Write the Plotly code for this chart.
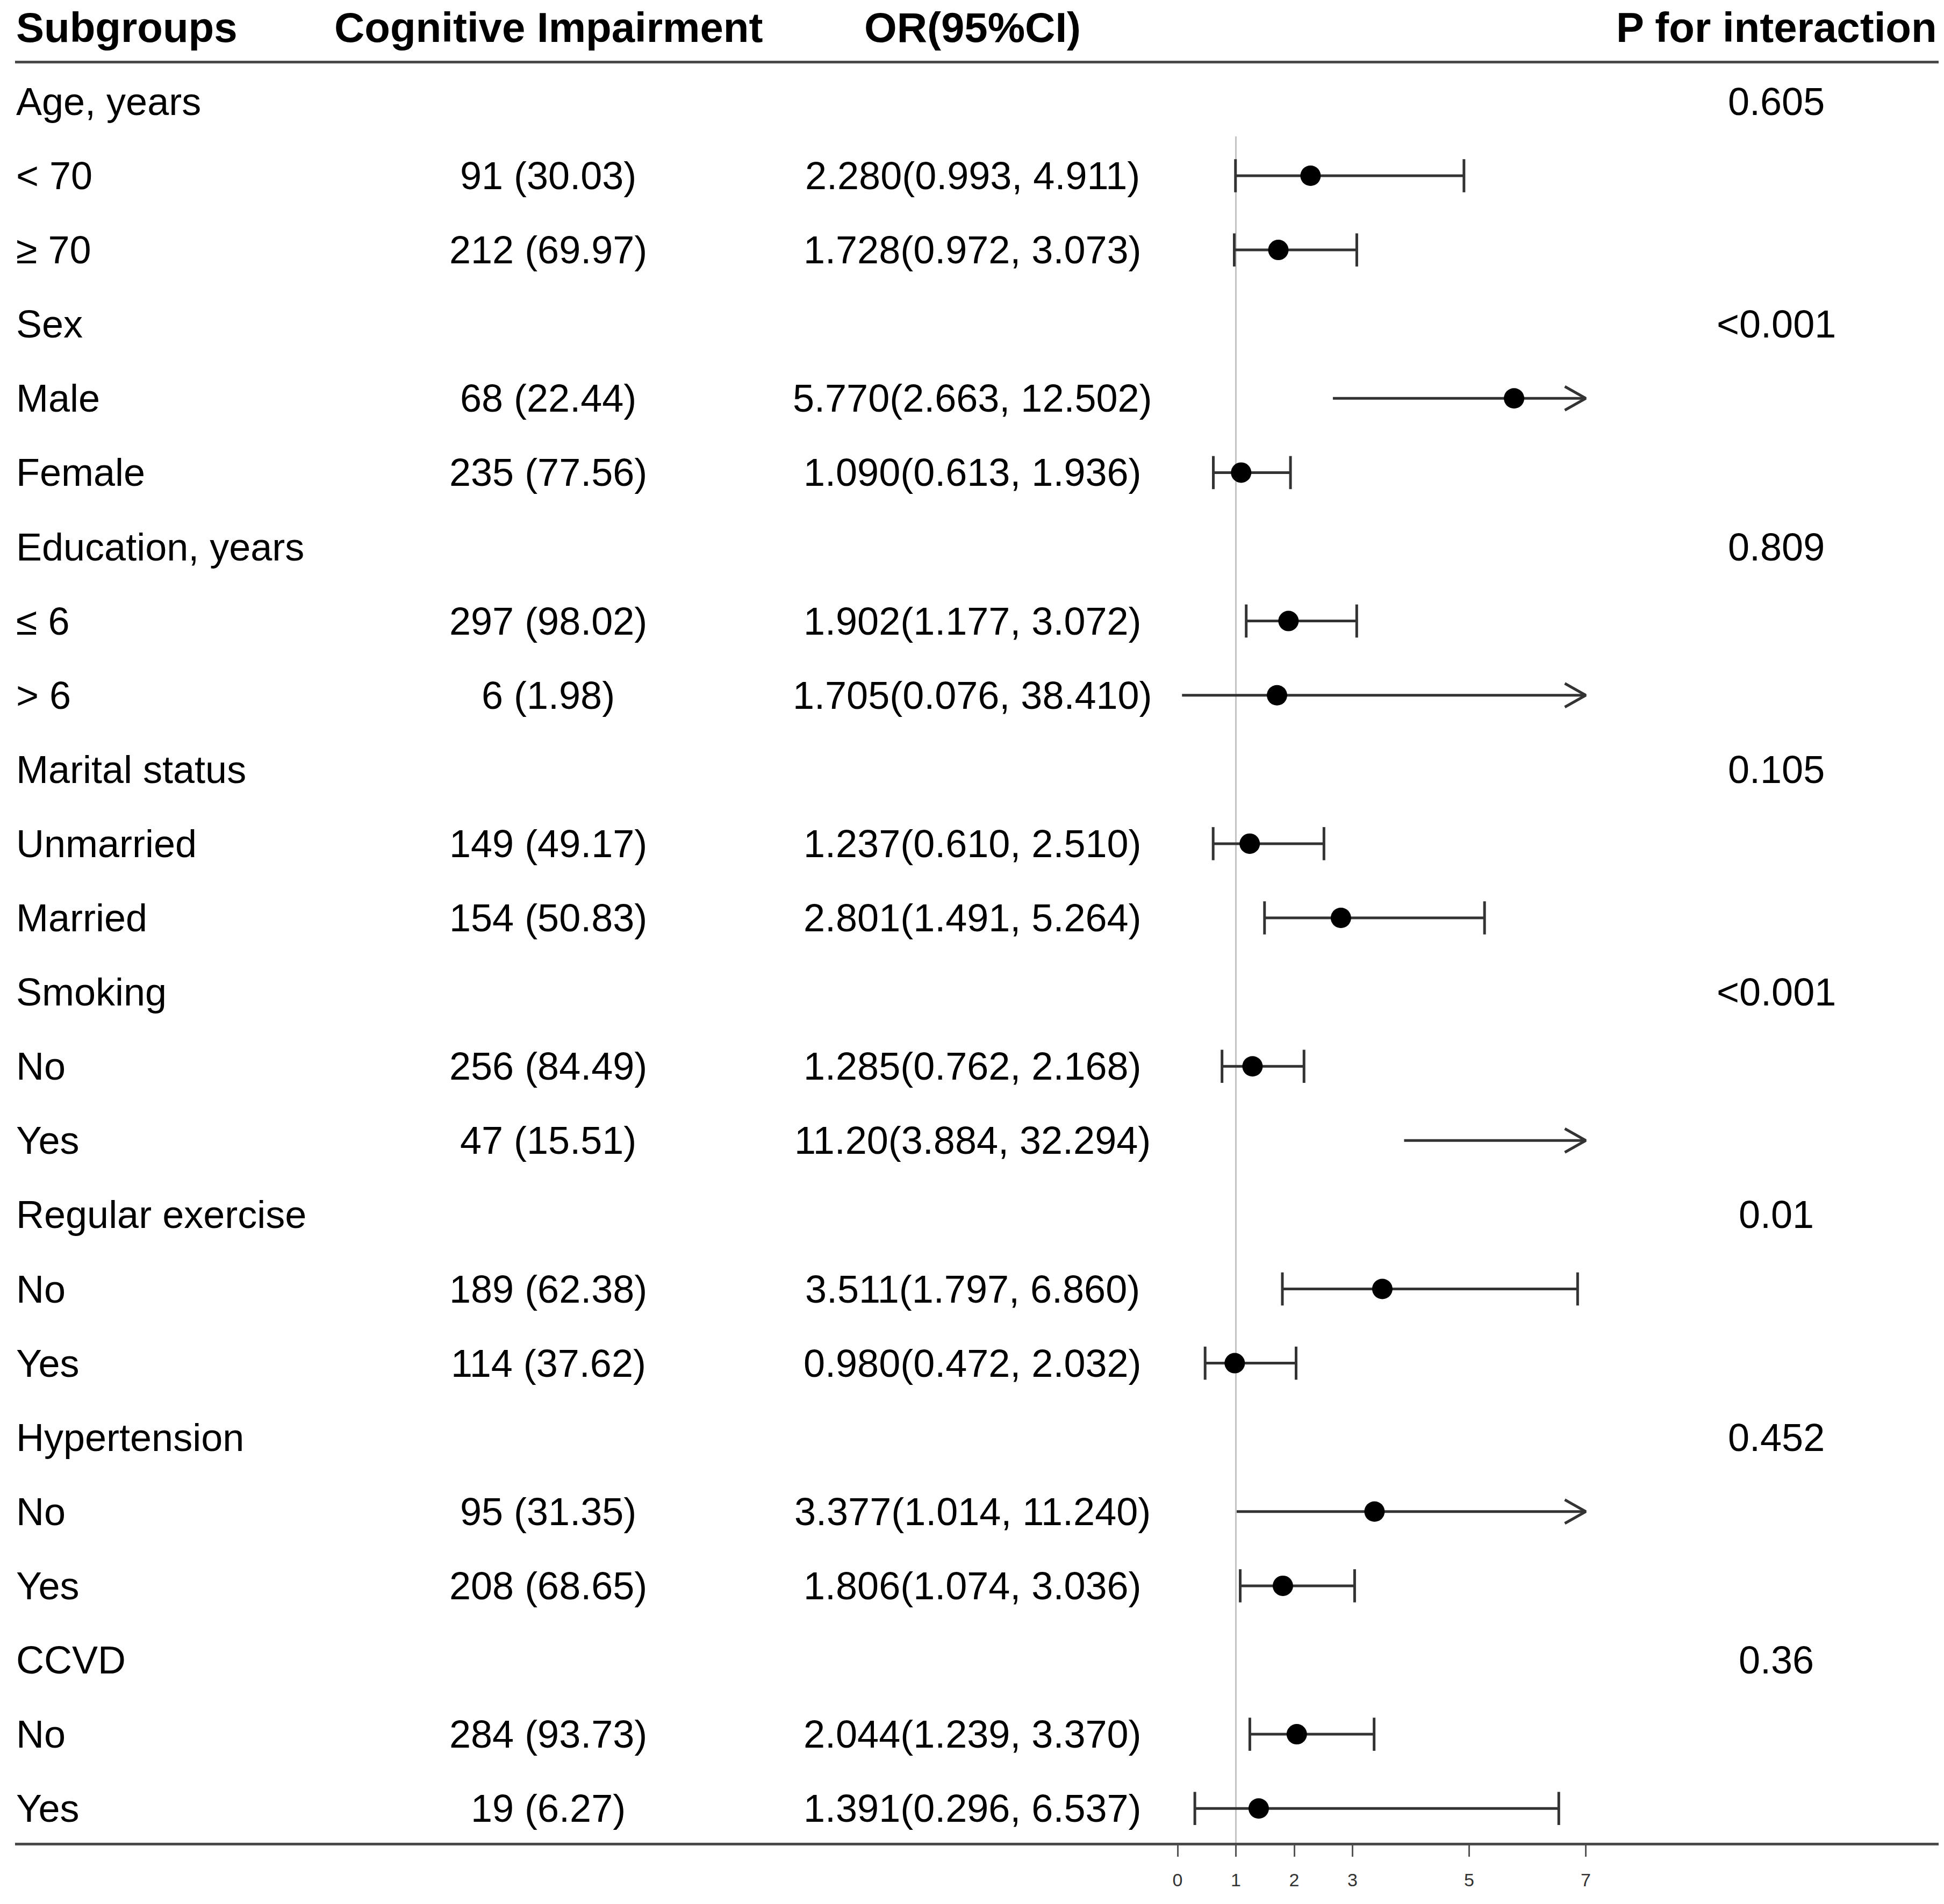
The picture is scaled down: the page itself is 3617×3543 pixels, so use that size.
import plotly.graph_objects as go

# ---------------- data ----------------
labels = ["Age, years", "< 70", "≥ 70",
          "Sex", "Male", "Female",
          "Education, years", "≤ 6", "> 6",
          "Marital status", "Unmarried", "Married",
          "Smoking", "No", "Yes",
          "Regular exercise", "No", "Yes",
          "Hypertension", "No", "Yes",
          "CCVD", "No", "Yes"]

counts = ["", "91 (30.03)", "212 (69.97)",
          "", "68 (22.44)", "235 (77.56)",
          "", "297 (98.02)", "6 (1.98)",
          "", "149 (49.17)", "154 (50.83)",
          "", "256 (84.49)", "47 (15.51)",
          "", "189 (62.38)", "114 (37.62)",
          "", "95 (31.35)", "208 (68.65)",
          "", "284 (93.73)", "19 (6.27)"]

or_text = ["", "2.280(0.993, 4.911)", "1.728(0.972, 3.073)",
           "", "5.770(2.663, 12.502)", "1.090(0.613, 1.936)",
           "", "1.902(1.177, 3.072)", "1.705(0.076, 38.410)",
           "", "1.237(0.610, 2.510)", "2.801(1.491, 5.264)",
           "", "1.285(0.762, 2.168)", "11.20(3.884, 32.294)",
           "", "3.511(1.797, 6.860)", "0.980(0.472, 2.032)",
           "", "3.377(1.014, 11.240)", "1.806(1.074, 3.036)",
           "", "2.044(1.239, 3.370)", "1.391(0.296, 6.537)"]

p_text = ["0.605", "", "", "<0.001", "", "", "0.809", "", "",
          "0.105", "", "", "<0.001", "", "", "0.01", "", "",
          "0.452", "", "", "0.36", "", ""]

or_est = [None, 2.280, 1.728, None, 5.770, 1.090, None, 1.902, 1.705,
          None, 1.237, 2.801, None, 1.285, 11.20, None, 3.511, 0.980,
          None, 3.377, 1.806, None, 2.044, 1.391]
or_lo = [None, 0.993, 0.972, None, 2.663, 0.613, None, 1.177, 0.076,
         None, 0.610, 1.491, None, 0.762, 3.884, None, 1.797, 0.472,
         None, 1.014, 1.074, None, 1.239, 0.296]
or_hi = [None, 4.911, 3.073, None, 12.502, 1.936, None, 3.072, 38.410,
         None, 2.510, 5.264, None, 2.168, 32.294, None, 6.860, 2.032,
         None, 11.240, 3.036, None, 3.370, 6.537]

headers = ["Subgroups", "Cognitive Impairment", "OR(95%CI)", "P for interaction"]
tick_vals = [0, 1, 2, 3, 5, 7]
X_CLIP = 7

# ---------------- geometry (page pixels, then shifted by body margin) ----------------
PAGE_W, PAGE_H = 3617, 3543
OFF = 8                      # default body margin of the html page
W, H = PAGE_W - 2 * OFF, PAGE_H - 2 * OFF
ROW0_PX = 50.8 - OFF         # header row centre
ROW_STEP = 138.1             # px per row
X0_PX = 2191.0 - OFF         # pixel position of OR = 0
UNIT_PX = 108.5              # px per OR unit

COL_LEFT = (28 - OFF) / W
COL_CI = (1020 - OFF) / W
COL_OR = (1809 - OFF) / W
COL_P = (3305 - OFF) / W
RULE_L, RULE_R = (28 - OFF) / W, (3607 - OFF) / W

y_top = -ROW0_PX / ROW_STEP
y_bot = (H - ROW0_PX) / ROW_STEP
x_min = -X0_PX / UNIT_PX
x_max = (W - X0_PX) / UNIT_PX

FONT = "Liberation Sans, Arial, sans-serif"
BODY = 72
HEAD = 78
LINE_C = "#333333"

rows = list(range(1, len(labels) + 1))

fig = go.Figure()

lx, ly = [], []
cap_x, cap_y = [], []
arr_x, arr_y = [], []
pt_x, pt_y = [], []
ah_dx = 39 / UNIT_PX
ah_dy = 22 / ROW_STEP
for r, e, lo, hi in zip(rows, or_est, or_lo, or_hi):
    if e is None:
        continue
    right = min(hi, X_CLIP)
    lx += [lo, right, None]
    ly += [r, r, None]
    if hi > X_CLIP:
        arr_x += [X_CLIP - ah_dx, X_CLIP, X_CLIP - ah_dx, None]
        arr_y += [r - ah_dy, r, r + ah_dy, None]
    else:
        cap_x += [lo, hi]
        cap_y += [r, r]
    if e <= X_CLIP:
        pt_x.append(e)
        pt_y.append(r)

fig.add_trace(go.Scatter(x=lx, y=ly, mode="lines",
                         line=dict(color=LINE_C, width=5),
                         hoverinfo="skip", showlegend=False))
fig.add_trace(go.Scatter(x=arr_x, y=arr_y, mode="lines",
                         line=dict(color=LINE_C, width=5),
                         hoverinfo="skip", showlegend=False))
fig.add_trace(go.Scatter(x=cap_x, y=cap_y, mode="markers",
                         marker=dict(symbol="line-ns", size=44,
                                     line=dict(color=LINE_C, width=5)),
                         hoverinfo="skip", showlegend=False))
fig.add_trace(go.Scatter(x=pt_x, y=pt_y, mode="markers",
                         marker=dict(symbol="circle", size=38, color="black"),
                         hoverinfo="skip", showlegend=False))

annotations = []
hdr_x = [COL_LEFT, COL_CI, COL_OR, COL_P]
hdr_anchor = ["left", "center", "center", "center"]
for t, x, a in zip(headers, hdr_x, hdr_anchor):
    annotations.append(dict(text="<b>%s</b>" % t, x=x, y=0, xref="paper", yref="y",
                            xanchor=a, yanchor="middle", showarrow=False,
                            font=dict(family=FONT, size=HEAD, color="black")))
for r, lab, c, o, p in zip(rows, labels, counts, or_text, p_text):
    annotations.append(dict(text=lab, x=COL_LEFT, y=r, xref="paper", yref="y",
                            xanchor="left", yanchor="middle", showarrow=False,
                            font=dict(family=FONT, size=BODY, color="black")))
    if c:
        annotations.append(dict(text=c, x=COL_CI, y=r, xref="paper", yref="y",
                                xanchor="center", yanchor="middle", showarrow=False,
                                font=dict(family=FONT, size=BODY, color="black")))
    if o:
        annotations.append(dict(text=o, x=COL_OR, y=r, xref="paper", yref="y",
                                xanchor="center", yanchor="middle", showarrow=False,
                                font=dict(family=FONT, size=BODY, color="black")))
    if p:
        annotations.append(dict(text=p, x=COL_P, y=r, xref="paper", yref="y",
                                xanchor="center", yanchor="middle", showarrow=False,
                                font=dict(family=FONT, size=BODY, color="black")))

top_rule = 0.468
bot_rule = len(labels) + 0.48
shapes = [
    dict(type="line", xref="paper", yref="y", x0=RULE_L, x1=RULE_R,
         y0=top_rule, y1=top_rule, line=dict(color="#4a4a4a", width=5)),
    dict(type="line", xref="paper", yref="y", x0=RULE_L, x1=RULE_R,
         y0=bot_rule, y1=bot_rule, line=dict(color="#4a4a4a", width=5)),
    dict(type="line", xref="x", yref="y", x0=1, x1=1, y0=1.47, y1=bot_rule,
         line=dict(color="#c4c4c4", width=3), layer="below"),
]

fig.update_layout(
    width=W, height=H,
    margin=dict(l=0, r=0, t=0, b=0),
    paper_bgcolor="white", plot_bgcolor="white",
    annotations=annotations, shapes=shapes,
    xaxis=dict(range=[x_min, x_max], domain=[0, 1], anchor="free",
               position=1 - (ROW0_PX + bot_rule * ROW_STEP) / H,
               tickvals=tick_vals, ticktext=[str(v) for v in tick_vals],
               ticks="outside", ticklen=23, tickwidth=3, tickcolor="#555",
               ticklabelstandoff=14,
               showgrid=False, zeroline=False, showline=False,
               tickfont=dict(family=FONT, size=34, color="#333")),
    yaxis=dict(range=[y_bot, y_top], domain=[0, 1], visible=False,
               showgrid=False, zeroline=False),
)

fig.write_html("out.html")
